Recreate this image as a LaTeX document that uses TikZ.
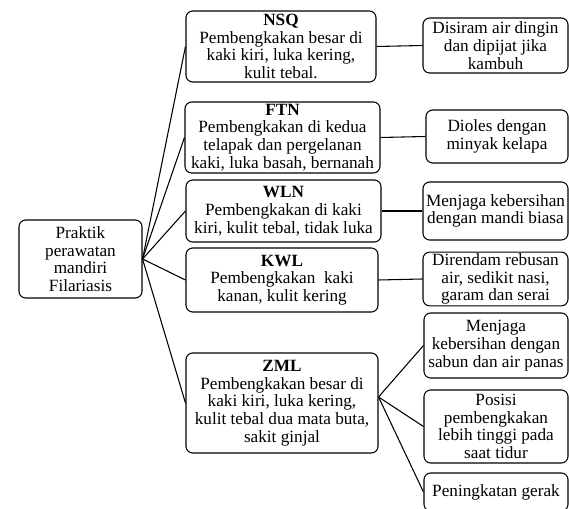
\documentclass[tikz,border=0pt]{standalone}
\usepackage{fontspec}
\setmainfont{Liberation Serif}
\usepackage{tikz}

\begin{document}
\begin{tikzpicture}[x=0.75pt,y=-0.75pt,
  kotak/.style={draw,rounded corners=5pt,line width=0.8pt,align=center,inner sep=1pt,
    font=\fontsize{12.9}{13.3}\selectfont},
  ukuran/.style 2 args={minimum width=#1*0.75pt,minimum height=#2*0.75pt},
  garis/.style={line width=0.8pt}]
\clip (0,0) rectangle (569,509);
% akar
\node[kotak,ukuran={123}{78}] (praktik) at (80.5,259) {Praktik\\perawatan\\mandiri\\Filariasis};
% kondisi pasien
\node[kotak,ukuran={190}{71}] (nsq) at (281,46.5) {\textbf{NSQ}\\Pembengkakan besar di\\kaki kiri, luka kering,\\kulit tebal.};
\node[kotak,ukuran={195}{71}] (ftn) at (282.5,137.5) {\textbf{FTN}\\Pembengkakan di kedua\\telapak dan pergelanan\\kaki, luka basah, bernanah};
\node[kotak,ukuran={195}{62}] (wln) at (283.5,211) {\textbf{WLN}\\Pembengkakan di kaki\\kiri, kulit tebal, tidak luka};
\node[kotak,ukuran={192}{64}] (kwl) at (282,280) {\textbf{KWL}\\Pembengkakan~ kaki\\kanan, kulit kering};
\node[kotak,ukuran={192}{100}] (zml) at (282,403) {\textbf{ZML}\\Pembengkakan besar di\\kaki kiri, luka kering,\\kulit tebal dua mata buta,\\sakit ginjal};
% perawatan
\node[kotak,ukuran={145}{55}] (nsqa) at (495.5,45.5) {Disiram air dingin\\dan dipijat jika\\kambuh};
\node[kotak,ukuran={142}{53}] (ftna) at (497,136.5) {Dioles dengan\\minyak kelapa};
\node[kotak,ukuran={145}{58}] (wlna) at (495.5,211) {Menjaga kebersihan\\dengan mandi biasa};
\node[kotak,ukuran={145}{52}] (kwla) at (495.5,279) {Direndam rebusan\\air, sedikit nasi,\\garam dan serai};
\node[kotak,ukuran={144}{65}] (zmla) at (496,345.5) {Menjaga\\kebersihan dengan\\sabun dan air panas};
\node[kotak,ukuran={144}{73}] (zmlb) at (496,426.5) {Posisi\\pembengkakan\\lebih tinggi pada\\saat tidur};
\node[kotak,ukuran={144}{38}] (zmlc) at (496,492) {Peningkatan gerak};
% garis
\draw[garis] (praktik.east) -- (nsq.west);
\draw[garis] (praktik.east) -- (ftn.west);
\draw[garis] (praktik.east) -- (wln.west);
\draw[garis] (praktik.east) -- (kwl.west);
\draw[garis] (praktik.east) -- (zml.west);
\draw[garis] (nsq.east) -- (nsqa.west);
\draw[garis] (ftn.east) -- (ftna.west);
\draw[garis] (wln.east) -- (wlna.west);
\draw[garis] (kwl.east) -- (kwla.west);
\draw[garis] ([yshift=4.5pt]zml.east) -- (zmla.west);
\draw[garis] ([yshift=4.5pt]zml.east) -- (zmlb.west);
\draw[garis] ([yshift=4.5pt]zml.east) -- (zmlc.west);
\end{tikzpicture}
\end{document}
